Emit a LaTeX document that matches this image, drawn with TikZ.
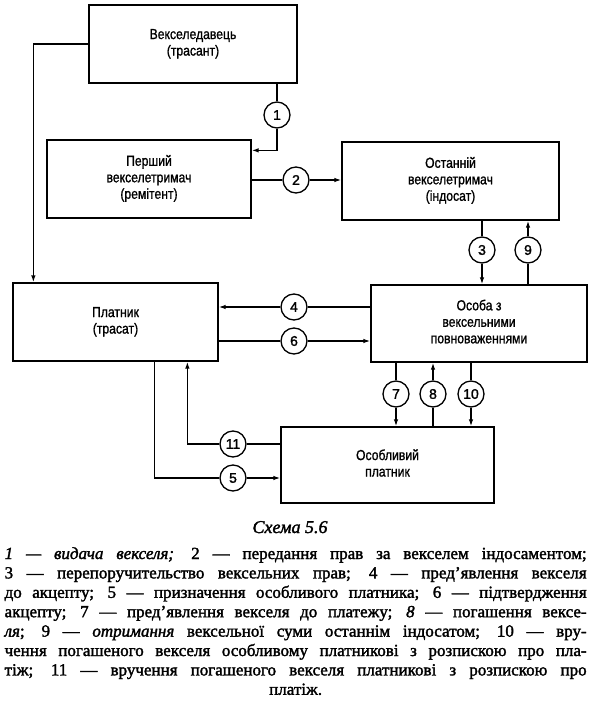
\documentclass[tikz,border=0pt]{standalone}
\usepackage{fontspec}
\usepackage{graphicx}
\setmainfont{Liberation Serif}
\newfontfamily\legendfont[FakeBold=1.8]{Liberation Serif}
\newfontfamily\boxfont[FakeBold=1.2]{Liberation Sans}
\newfontfamily\numfont[FakeBold=1.5]{Liberation Sans}
\newcommand{\boxtext}[1]{\scalebox{0.84}[1]{\begin{tabular}{@{}c@{}}#1\end{tabular}}}
\usetikzlibrary{arrows.meta}
\begin{document}
\begin{tikzpicture}[x=1pt,y=-1pt,
  line width=1.3pt,
  box/.style={draw, rectangle, align=center, inner sep=2pt,
    font=\boxfont\fontsize{14.5}{16.5}\selectfont},
  num/.style={draw, circle, minimum size=26pt, inner sep=0pt,
    font=\numfont\fontsize{14}{14}\selectfont},
  arr/.style={-{Latex[length=7pt,width=4.5pt]}}
]
\useasboundingbox (0,0) rectangle (589,704);

% boxes
\node[box, minimum width=208pt, minimum height=78pt] (b1) at (193,44) {\boxtext{Векселедавець\\(трасант)}};
\node[box, minimum width=204pt, minimum height=78pt] (b2) at (149,179) {\boxtext{Перший\\векселетримач\\(ремітент)}};
\node[box, minimum width=217pt, minimum height=78pt] (b3) at (450.5,181) {\boxtext{Останній\\векселетримач\\(індосат)}};
\node[box, minimum width=205pt, minimum height=78pt] (b4) at (115.5,322) {\boxtext{Платник\\(трасат)}};
\node[box, minimum width=216pt, minimum height=77pt] (b5) at (479,323.5) {\boxtext{Особа з\\вексельними\\повноваженнями}};
\node[box, minimum width=213pt, minimum height=76pt] (b6) at (387.5,465) {\boxtext{Особливий\\платник}};

% numbered circles
\node[num] (c1) at (277,115) {1};
\node[num] (c2) at (296,180) {2};
\node[num] (c3) at (482,250) {3};
\node[num] (c9) at (528,250) {9};
\node[num] (c4) at (294,307) {4};
\node[num] (c6) at (294,341) {6};
\node[num] (c7) at (396,394) {7};
\node[num] (c8) at (433,394) {8};
\node[num] (c10) at (471,394) {10};
\node[num] (c11) at (233,444) {11};
\node[num] (c5) at (233,478) {5};

% connectors
\draw[arr] (b1.west) -| ([xshift=21pt]b4.north west);
\draw (b1.south -| c1) -- (c1);
\draw[arr] (c1) |- ([yshift=-11pt]b2.north east);
\draw (b2.east |- c2) -- (c2);
\draw[arr] (c2) -- (b3.west |- c2);
\draw (b3.south -| c3) -- (c3);
\draw[arr] (c3) -- (b5.north -| c3);
\draw (b5.north -| c9) -- (c9);
\draw[arr] (c9) -- (b3.south -| c9);
\draw (b5.west |- c4) -- (c4);
\draw[arr] (c4) -- (b4.east |- c4);
\draw (b4.east |- c6) -- (c6);
\draw[arr] (c6) -- (b5.west |- c6);
\draw (b5.south -| c7) -- (c7);
\draw[arr] (c7) -- (b6.north -| c7);
\draw (b6.north -| c8) -- (c8);
\draw[arr] (c8) -- (b5.south -| c8);
\draw (b5.south -| c10) -- (c10);
\draw[arr] (c10) -- (b6.north -| c10);
\draw (b6.west |- c11) -- (c11);
\draw[arr] (c11) -| ([xshift=175pt]b4.south west);
\draw ([xshift=142pt]b4.south west) |- (c5);
\draw[arr] (c5) -- (b6.west |- c5);

% caption
\node[anchor=base, font=\legendfont\itshape\fontsize{18}{20}\selectfont] (cap) at (290,533) {Схема 5.6};
\node[anchor=base west, text width=582pt, align=justify, inner sep=0pt,
  font=\legendfont\fontsize{17}{19.4}\selectfont] (legend) at (4,559)
{\parfillskip=0pt\textit{1 — видача векселя;} 2 — передання прав за векселем індосаментом;\linebreak
3 — перепоручительство вексельних прав; 4 — пред’явлення векселя\linebreak
до акцепту; 5 — призначення особливого платника; 6 — підтвердження\linebreak
акцепту; 7 — пред’явлення векселя до платежу; \textit{8} — погашення вексе-\linebreak
\textit{ля}; 9 — \textit{отримання} вексельної суми останнім індосатом; 10 — вру-\linebreak
чення погашеного векселя особливому платникові з розпискою про пла-\linebreak
тіж; 11 — вручення погашеного векселя платникові з розпискою про\par
\parfillskip=0pt plus 1fil\centering платіж.\par};
\end{tikzpicture}
\end{document}
